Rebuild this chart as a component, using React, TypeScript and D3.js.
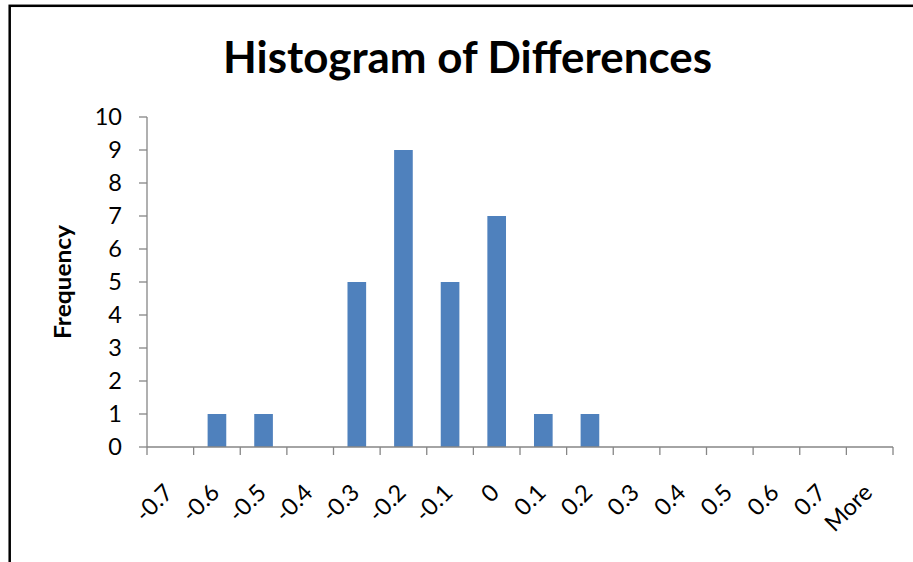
import React from "react";
import * as d3 from "d3";

const categories: string[] = ["-0.7", "-0.6", "-0.5", "-0.4", "-0.3", "-0.2", "-0.1", "0", "0.1", "0.2", "0.3", "0.4", "0.5", "0.6", "0.7", "More"];
const frequencies: number[] = [0, 1, 1, 0, 5, 9, 5, 7, 1, 1, 0, 0, 0, 0, 0, 0];
const yTickValues: number[] = [0, 1, 2, 3, 4, 5, 6, 7, 8, 9, 10];
const titleText = "Histogram of Differences";
const yAxisTitle = "Frequency";

const W = 913;
const H = 562;
const plotLeft = 147;
const plotRight = 893;
const plotTop = 117;
const plotBottom = 447;
const axisColor = "#868686";
const barColor = "#4F81BD";
const font = "Lato, 'Noto Sans', sans-serif";

export default function App() {
  const x = d3
    .scaleBand<string>()
    .domain(categories)
    .range([plotLeft, plotRight])
    .paddingInner(0.6)
    .paddingOuter(0.3);
  const y = d3.scaleLinear().domain([0, 10]).range([plotBottom, plotTop]);
  const step = x.step();
  const boundaries = d3.range(categories.length + 1).map((i) => plotLeft + i * step);

  return (
    <svg
      width={W}
      height={H}
      style={{ position: "absolute", left: 0, top: 0, display: "block", background: "#fff" }}
    >
      <rect x={0} y={0} width={W} height={H} fill="#fff" />
      {/* chart frame */}
      <rect x={9.7} y={5.8} width={1200} height={1200} fill="none" stroke="#000" strokeWidth={2.5} />

      {/* title */}
      <text
        x={(223 + 712) / 2}
        y={73}
        textAnchor="middle"
        fontFamily={font}
        fontWeight="bold"
        fontSize={44}
        fill="#000"
        textLength={489}
        lengthAdjust="spacingAndGlyphs"
      >
        {titleText}
      </text>

      {/* y axis title */}
      <text
        transform={`translate(70.5, 282) rotate(-90)`}
        textAnchor="middle"
        fontFamily={font}
        fontWeight="bold"
        fontSize={22.5}
        fill="#000"
        textLength={114}
        lengthAdjust="spacingAndGlyphs"
      >
        {yAxisTitle}
      </text>

      {/* bars */}
      {categories.map((c, i) =>
        frequencies[i] > 0 ? (
          <rect
            key={c}
            x={x(c)}
            y={y(frequencies[i])}
            width={x.bandwidth()}
            height={y(0) - y(frequencies[i])}
            fill={barColor}
          />
        ) : null
      )}

      {/* y axis */}
      <line x1={plotLeft} x2={plotLeft} y1={plotTop} y2={plotBottom} stroke={axisColor} strokeWidth={1.3} />
      {yTickValues.map((v) => (
        <g key={v}>
          <line x1={plotLeft - 8} x2={plotLeft} y1={y(v)} y2={y(v)} stroke={axisColor} strokeWidth={1.3} />
          <text
            x={122}
            y={y(v)}
            dy="0.36em"
            textAnchor="end"
            fontFamily={font}
            fontSize={23.5}
            fill="#000"
          >
            {v}
          </text>
        </g>
      ))}

      {/* x axis */}
      <line x1={plotLeft} x2={plotRight} y1={plotBottom} y2={plotBottom} stroke={axisColor} strokeWidth={1.3} />
      {boundaries.map((bx, i) => (
        <line key={i} x1={bx} x2={bx} y1={plotBottom} y2={plotBottom + 8} stroke={axisColor} strokeWidth={1.3} />
      ))}
      {categories.map((c) => {
        const cx = (x(c) as number) + x.bandwidth() / 2;
        return (
          <text
            key={c}
            transform={`translate(${cx + 4}, 494) rotate(-45)`}
            textAnchor="end"
            fontFamily={font}
            fontSize={23.5}
            fill="#000"
          >
            {c}
          </text>
        );
      })}
    </svg>
  );
}
